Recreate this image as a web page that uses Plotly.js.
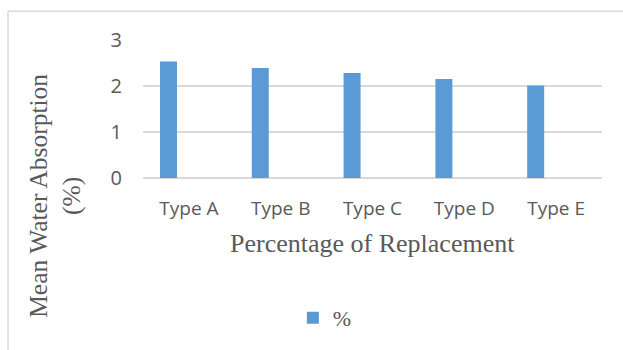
<!DOCTYPE html>
<html>
<head>
<meta charset="utf-8">
<script src="https://cdn.plot.ly/plotly-3.0.1.min.js"></script>
<style>html,body{margin:0;padding:0;background:#fff;}#chart{width:623px;height:350px;}</style>
</head>
<body>
<div id="chart"></div>
<script>
const categories = ["Type A", "Type B", "Type C", "Type D", "Type E"];
const absorption = [2.53, 2.39, 2.28, 2.15, 2.01];
const seriesName = "%";
const yTicks = [0, 1, 2, 3];

const grey = "#d9d9d9";
const textCol = "#595959";

const trace = {
  type: "bar",
  x: categories,
  y: absorption,
  name: seriesName,
  width: 0.185,
  offset: -0.315,
  marker: {color: "#5b9bd5"},
  showlegend: true,
  hoverinfo: "skip"
};

const layout = {
  width: 623, height: 350,
  margin: {l: 143, r: 21, t: 40, b: 171},
  paper_bgcolor: "#fff", plot_bgcolor: "#fff",
  showlegend: true,
  xaxis: {
    type: "category",
    showgrid: false, showline: false, zeroline: false,
    ticks: "outside", ticklen: 13, tickcolor: "rgba(0,0,0,0)",
    tickfont: {family: "Open Sans", size: 19, color: textCol},
    fixedrange: true
  },
  yaxis: {
    range: [0, 3],
    tickvals: yTicks,
    showgrid: true, gridcolor: grey, gridwidth: 1.5,
    zeroline: true, zerolinecolor: grey, zerolinewidth: 1.5,
    showline: false,
    ticks: "outside", ticklen: 16, tickcolor: "rgba(0,0,0,0)",
    tickfont: {family: "Open Sans", size: 20, color: textCol},
    fixedrange: true
  },
  legend: {
    orientation: "h",
    x: 0.3265, xanchor: "left",
    y: -1.0, yanchor: "middle",
    font: {family: "Liberation Serif", size: 22, color: textCol},
    bgcolor: "rgba(0,0,0,0)"
  },
  annotations: [
    {
      text: "Percentage of Replacement",
      xref: "paper", yref: "paper", x: 0.499, y: -0.475,
      xanchor: "center", yanchor: "middle", showarrow: false,
      font: {family: "Liberation Serif", size: 26, color: textCol}
    },
    {
      text: "Mean Water Absorption<br>(%)",
      xref: "paper", yref: "paper", x: -0.192, y: -0.13,
      xanchor: "center", yanchor: "middle", showarrow: false,
      textangle: -90,
      font: {family: "Liberation Serif", size: 25.5, color: textCol}
    }
  ],
  shapes: [
    {type: "line", xref: "paper", yref: "paper", x0: -0.2941, x1: -0.2941, y0: 1.2086, y1: -1.26,
     line: {color: grey, width: 1.5}},
    {type: "line", xref: "paper", yref: "paper", x0: -0.2941, x1: 1.06, y0: 1.2086, y1: 1.2086,
     line: {color: grey, width: 1.5}}
  ]
};

Plotly.newPlot("chart", [trace], layout, {staticPlot: true, displayModeBar: false});
</script>
</body>
</html>
